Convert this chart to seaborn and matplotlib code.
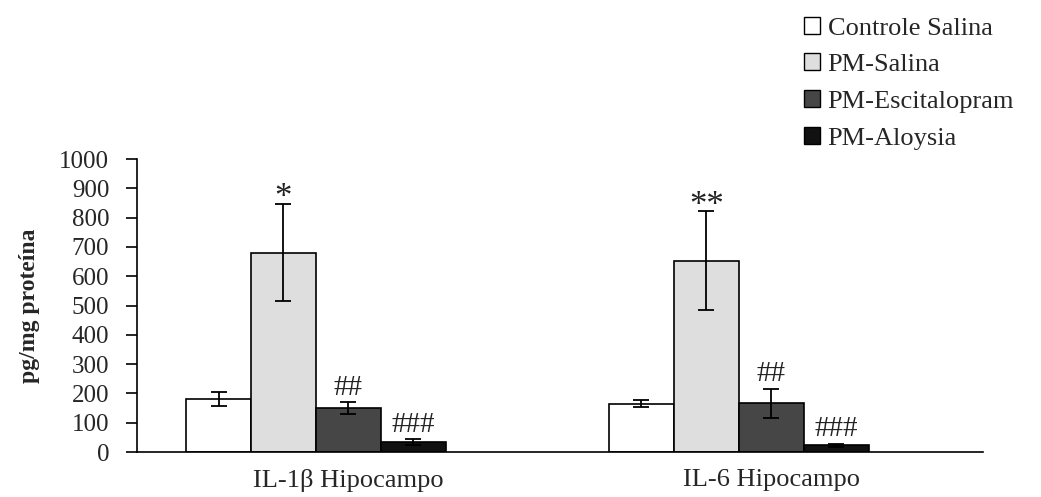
import matplotlib
matplotlib.use("Agg")
import matplotlib.pyplot as plt
import seaborn as sns
import pandas as pd
from matplotlib.patches import Patch

regions = ["IL-1β Hipocampo", "IL-6 Hipocampo"]
groups = ["Controle Salina", "PM-Salina", "PM-Escitalopram", "PM-Aloysia"]
colors = ["#ffffff", "#dedede", "#464646", "#111111"]

means_il1b = [182, 681, 150, 33]
sems_il1b = [24, 167, 20, 10]
means_il6 = [165, 653, 166, 23]
sems_il6 = [13, 168, 50, 5]
marks_il1b = ["", "*", "##", "###"]
marks_il6 = ["", "**", "##", "###"]

yticks = list(range(0, 1001, 100))

rows = []
for g, m1, m2 in zip(groups, means_il1b, means_il6):
    rows.append({"region": regions[0], "group": g, "value": m1})
    rows.append({"region": regions[1], "group": g, "value": m2})
df = pd.DataFrame(rows)

sns.set_theme(style="white")
plt.rcParams["font.family"] = ["Liberation Serif", "DejaVu Serif"]

fig = plt.figure(figsize=(10.41, 4.97), dpi=100)
ax = fig.add_axes([0.1316, 0.0905, 0.8124, 0.5895])

spacer = " "
palette = dict(zip(groups, colors))
palette[spacer] = "#ffffff"
sns.barplot(data=df, x="region", y="value", hue="group",
            hue_order=groups + [spacer], order=regions, palette=palette,
            width=0.768, edgecolor="black", linewidth=1.2, saturation=1,
            errorbar=None, legend=False, ax=ax)

sems = [sems_il1b, sems_il6]
means = [means_il1b, means_il6]
marks = [marks_il1b, marks_il6]
for gi, cont in enumerate(ax.containers[:len(groups)]):
    for ri, bar in enumerate(cont):
        x = bar.get_x() + bar.get_width() / 2
        m = means[ri][gi]
        s = sems[ri][gi]
        ax.errorbar(x, m, yerr=s, fmt="none", ecolor="black",
                    elinewidth=1.3, capsize=5.5, capthick=1.3, zorder=5)
        txt = marks[ri][gi]
        if txt:
            star = "*" in txt
            ax.annotate(txt, (x, m + s), xytext=(0, -8 if star else 1),
                        textcoords="offset points", ha="center", va="bottom",
                        fontsize=25 if star else 21, color="#222222")

ax.set_xlim(-0.5, 1.5)
ax.set_ylim(0, 1000)
ax.set_yticks(yticks)
ax.set_yticklabels([str(t) for t in yticks], fontsize=18)
ax.set_xlabel("")
ax.set_ylabel("pg/mg proteína", fontsize=17, fontweight="bold", labelpad=14)
ax.tick_params(axis="x", length=0, labelsize=19, pad=12)
ax.tick_params(axis="y", direction="out", length=8, width=1.2, color="black",
               left=True, pad=12)
for side in ["top", "right"]:
    ax.spines[side].set_visible(False)
for side in ["left", "bottom"]:
    ax.spines[side].set_color("black")
    ax.spines[side].set_linewidth(1.2)

handles = [Patch(facecolor=c, edgecolor="black", linewidth=1.0) for c in colors]
fig.legend(handles, groups, loc="upper left", bbox_to_anchor=(0.757, 0.998),
           frameon=False, fontsize=19, handlelength=0.6, handleheight=0.6,
           handletextpad=0.3, labelspacing=0.53, borderaxespad=0.2)

fig.savefig("out.png", dpi=100)
